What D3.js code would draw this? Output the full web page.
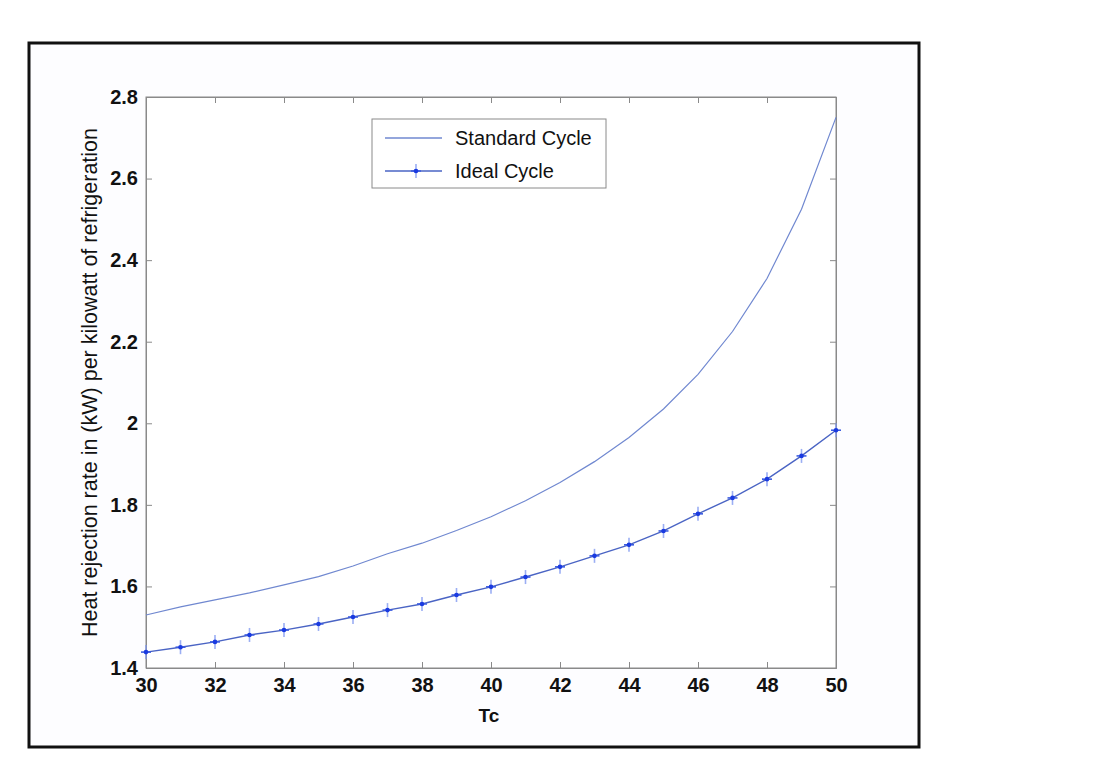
<!DOCTYPE html>
<html>
<head>
<meta charset="utf-8">
<script src="https://cdn.jsdelivr.net/npm/d3@7"></script>
<style>
  body { margin: 0; background: #ffffff; }
  text { font-family: "Liberation Sans", Arial, sans-serif; fill: #111; }
</style>
</head>
<body>
<svg id="chart" width="1112" height="760"></svg>
<script>
// condensing temperature Tc
var tc = [30, 31, 32, 33, 34, 35, 36, 37, 38, 39, 40, 41, 42, 43, 44, 45, 46, 47, 48, 49, 50];

// heat rejection per kW of refrigeration
var standardCycle = [1.530, 1.550, 1.567, 1.584, 1.604, 1.624, 1.650, 1.680, 1.706, 1.737, 1.771,
                     1.810, 1.855, 1.906, 1.965, 2.035, 2.120, 2.225, 2.355, 2.525, 2.750];
var idealCycle = [1.439, 1.451, 1.464, 1.481, 1.493, 1.508, 1.525, 1.542, 1.557, 1.579, 1.599,
                  1.623, 1.648, 1.675, 1.702, 1.736, 1.778, 1.817, 1.863, 1.920, 1.983];

var xTicks = [30, 32, 34, 36, 38, 40, 42, 44, 46, 48, 50];
var yTicks = [1.4, 1.6, 1.8, 2, 2.2, 2.4, 2.6, 2.8];
var seriesNames = ["Standard Cycle", "Ideal Cycle"];

var svg = d3.select("#chart");

// outer frame
svg.append("rect")
    .attr("x", 29).attr("y", 43)
    .attr("width", 890).attr("height", 704)
    .attr("fill", "#fdfdff")
    .attr("stroke", "#111")
    .attr("stroke-width", 3);

// plot box edges (don't use "top" as a global, it's window.top)
var pLeft = 146, pRight = 836, pTop = 97, pBottom = 668;

var x = d3.scaleLinear().domain([30, 50]).range([pLeft, pRight]);
var y = d3.scaleLinear().domain([1.4, 2.8]).range([pBottom, pTop]);

var g = svg.append("g");

// axes box
g.append("rect")
    .attr("x", pLeft).attr("y", pTop)
    .attr("width", pRight - pLeft).attr("height", pBottom - pTop)
    .attr("fill", "#ffffff")
    .attr("stroke", "#8a8a8a")
    .attr("stroke-width", 1);

var tickLen = 6;

// bottom axis
var xAxis = d3.axisBottom(x).tickValues(xTicks).tickSize(-tickLen).tickPadding(10).tickFormat(d3.format("d"));
g.append("g").attr("transform", "translate(0," + pBottom + ")").call(xAxis);

// top ticks
g.append("g").attr("transform", "translate(0," + pTop + ")")
    .call(d3.axisTop(x).tickValues(xTicks).tickSize(-tickLen).tickFormat(""));

// left axis
var yAxis = d3.axisLeft(y).tickValues(yTicks).tickSize(-tickLen).tickPadding(8).tickFormat(d3.format("~g"));
g.append("g").attr("transform", "translate(" + pLeft + ",0)").call(yAxis);

// right ticks
g.append("g").attr("transform", "translate(" + pRight + ",0)")
    .call(d3.axisRight(y).tickValues(yTicks).tickSize(-tickLen).tickFormat(""));

g.selectAll(".domain").attr("stroke", "#8a8a8a");
g.selectAll(".tick line").attr("stroke", "#8a8a8a");
g.selectAll(".tick text")
    .attr("font-size", 20)
    .attr("font-weight", "bold")
    .attr("fill", "#111");

// axis titles
svg.append("text")
    .attr("x", (pLeft + pRight) / 2 - 2).attr("y", 722)
    .attr("text-anchor", "middle")
    .attr("font-size", 19)
    .attr("font-weight", "bold")
    .text("Tc");

svg.append("text")
    .attr("transform", "translate(97," + ((pTop + pBottom) / 2) + ") rotate(-90)")
    .attr("text-anchor", "middle")
    .attr("font-size", 21.5)
    .text("Heat rejection rate in (kW) per kilowatt of refrigeration");

var line = d3.line()
    .x(function(d) { return x(d[0]); })
    .y(function(d) { return y(d[1]); });

var stdData = tc.map(function(t, i) { return [t, standardCycle[i]]; });
var idealData = tc.map(function(t, i) { return [t, idealCycle[i]]; });

g.append("path")
    .datum(stdData)
    .attr("d", line)
    .attr("fill", "none")
    .attr("stroke", "#7088d0")
    .attr("stroke-width", 1.2);

g.append("path")
    .datum(idealData)
    .attr("d", line)
    .attr("fill", "none")
    .attr("stroke", "#4a64c4")
    .attr("stroke-width", 1.4);

// plus markers
function drawMarker(sel, cx, cy) {
    sel.append("line")
        .attr("x1", cx).attr("x2", cx)
        .attr("y1", cy - 7).attr("y2", cy + 7)
        .attr("stroke", "#7a94f0").attr("stroke-width", 1.6).attr("opacity", 0.75);
    sel.append("line")
        .attr("x1", cx - 5).attr("x2", cx + 5)
        .attr("y1", cy).attr("y2", cy)
        .attr("stroke", "#3c5ce0").attr("stroke-width", 1.6);
    sel.append("circle")
        .attr("cx", cx).attr("cy", cy).attr("r", 2.3)
        .attr("fill", "#1a3ae0");
}

var markers = g.append("g");
idealData.forEach(function(d) {
    drawMarker(markers, x(d[0]), y(d[1]));
});

// legend
var leg = svg.append("g");
leg.append("rect")
    .attr("x", 372).attr("y", 119)
    .attr("width", 234).attr("height", 69)
    .attr("fill", "#ffffff")
    .attr("stroke", "#8a8a8a");

var legY = [138, 171];
seriesNames.forEach(function(name, i) {
    leg.append("line")
        .attr("x1", 385).attr("x2", 442)
        .attr("y1", legY[i]).attr("y2", legY[i])
        .attr("stroke", i === 0 ? "#7088d0" : "#4a64c4")
        .attr("stroke-width", 1.3);
    if (i === 1) drawMarker(leg, 416, legY[i]);
    leg.append("text")
        .attr("x", 455).attr("y", legY[i] + 7)
        .attr("font-size", 20)
        .text(name);
});
</script>
</body>
</html>
